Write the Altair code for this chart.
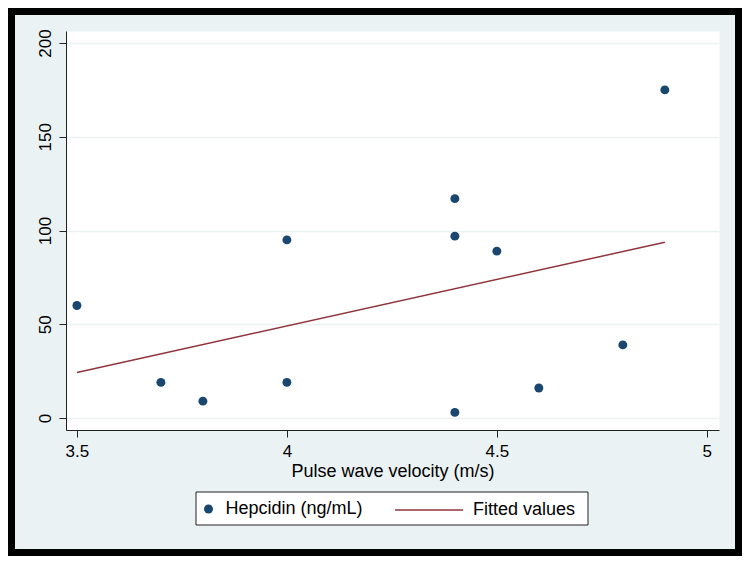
import altair as alt
import pandas as pd

# Data
pwv = [3.5, 3.7, 3.8, 4.0, 4.0, 4.4, 4.4, 4.4, 4.5, 4.6, 4.8, 4.9]
hepcidin = [60, 19, 9, 19, 95, 117, 97, 3, 89, 16, 39, 175]
x_ticks = [3.5, 4, 4.5, 5]
y_ticks = [0, 50, 100, 150, 200]
series_points = "Hepcidin (ng/mL)"
series_fit = "Fitted values"

df = pd.DataFrame({"pwv": pwv, "hep": hepcidin})

FONT = "Liberation Sans"
NAVY = "#1A476F"
MAROON = "#90353B"
BG = "#EAF2F3"

W, H = 653, 399
PAD = {"left": 58, "top": 23, "right": 23, "bottom": 126}

xscale = alt.Scale(domain=[3.474, 5.029], nice=False, zero=False)
yscale = alt.Scale(domain=[-6.4, 206.4], nice=False, zero=False)

xaxis = alt.Axis(values=x_ticks, format="~g", grid=False, title="Pulse wave velocity (m/s)",
                 titleFontSize=18, titleFontWeight="normal", titleColor="black",
                 titleY=46, titleBaseline="alphabetic",
                 labelFontSize=17, labelColor="black", labelPadding=6, tickSize=7,
                 tickColor="#222", domainColor="#222", labelFlush=False)
yaxis = alt.Axis(values=y_ticks, grid=True, gridColor=BG, gridWidth=1.5, title=None,
                 labelAngle=270, labelAlign="center", labelBaseline="bottom",
                 labelFontSize=17, labelColor="black", labelPadding=5, tickSize=7,
                 tickColor="#222", domainColor="#222")

one = alt.Data(values=[{"a": 1}])

frame = alt.Chart(one).mark_rect(fill="transparent", stroke="black", strokeWidth=7).encode(
    x=alt.value(-54.5), x2=alt.value(672.5), y=alt.value(-19.5), y2=alt.value(521.5))

legend_box = alt.Chart(one).mark_rect(fill="white", stroke="#222", strokeWidth=1).encode(
    x=alt.value(130), x2=alt.value(522), y=alt.value(461), y2=alt.value(494))

points = alt.Chart(df).mark_circle(size=80, opacity=1).transform_calculate(
    s1=f"'{series_points}'"
).encode(
    x=alt.X("pwv:Q", scale=xscale, axis=xaxis),
    y=alt.Y("hep:Q", scale=yscale, axis=yaxis),
    color=alt.Color("s1:N", scale=alt.Scale(domain=[series_points], range=[NAVY]),
                    legend=alt.Legend(title=None, orient="none", legendX=133.5, legendY=469,
                                      symbolType="circle", symbolSize=80, labelOffset=8,
                                      labelFontSize=18, labelColor="black", padding=0)),
)

fit = alt.Chart(df).transform_regression("pwv", "hep").transform_calculate(
    s2=f"'{series_fit}'"
).mark_line(strokeWidth=1.5).encode(
    x=alt.X("pwv:Q", scale=xscale, axis=xaxis),
    y=alt.Y("hep:Q", scale=yscale, axis=yaxis),
    stroke=alt.Stroke("s2:N", scale=alt.Scale(domain=[series_fit], range=[MAROON]),
                      legend=alt.Legend(title=None, orient="none", legendX=328, legendY=444,
                                        symbolType="stroke", symbolSize=4624, symbolStrokeWidth=1.5,
                                        labelOffset=9, labelFontSize=18, labelColor="black",
                                        padding=0)),
)

chart = alt.layer(frame, legend_box, points, fit).resolve_scale(
    color="independent", stroke="independent"
).properties(
    width=W, height=H, autosize=alt.AutoSizeParams(type="none"), padding=PAD,
).configure(
    background=BG, font=FONT,
).configure_view(fill="white", stroke="transparent")

chart.save("out.html", embed_options={"renderer": "svg", "actions": False})
